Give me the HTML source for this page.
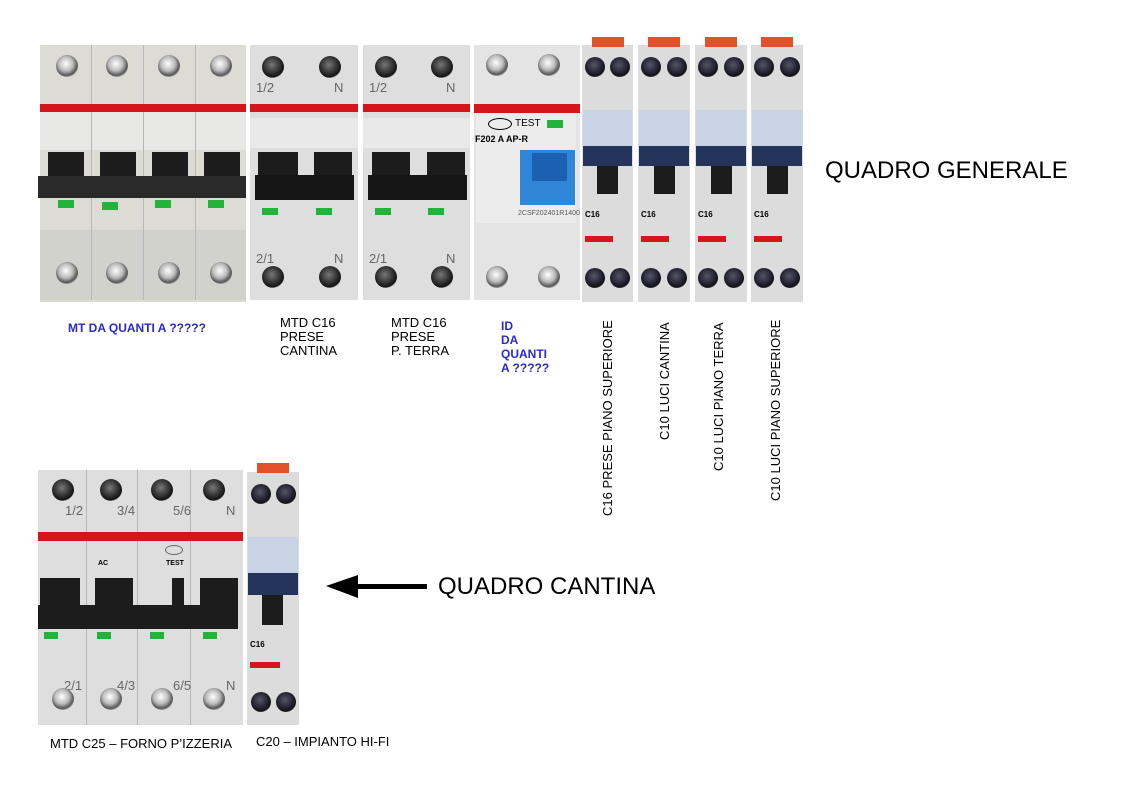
<!DOCTYPE html>
<html><head><meta charset="utf-8"><style>
*{margin:0;padding:0;box-sizing:border-box}
body{width:1123px;height:794px;background:#fff;position:relative;overflow:hidden;font-family:"Liberation Sans",sans-serif}
.a{position:absolute}
.body{background:#dedede}
.beige{background:#dcdcd4}
.scr{position:absolute;width:22px;height:22px;border-radius:50%;background:radial-gradient(circle at 45% 40%,#777 0,#333 45%,#111 70%,#999 72%,#ccc 100%)}
.scrl{position:absolute;width:22px;height:22px;border-radius:50%;background:radial-gradient(circle at 45% 40%,#fff 0,#bbb 40%,#555 65%,#aaa 75%,#ddd 100%)}
.gscr{position:absolute;width:20px;height:20px;border-radius:50%;background:radial-gradient(circle at 45% 40%,#556 0,#223 50%,#111 70%,#bbb 78%,#ddd 100%)}
.red{position:absolute;background:#d6141c}
.blk{position:absolute;background:#1c1c1c}
.grn{position:absolute;background:#22b33a}
.div{position:absolute;width:1px;background:#b8b8b8}
.t{position:absolute;color:#000;font-size:13px;line-height:14px}
.b{color:#2a2acc;font-weight:bold;font-size:12px;line-height:14px}
.rot{position:absolute;font-size:13px;white-space:nowrap;transform-origin:0 0;transform:rotate(-90deg)}
.lbl{position:absolute;font-size:13px;color:#666}
</style></head><body>

<!-- MT 4-pole -->
<div class="a beige" style="left:40px;top:45px;width:206px;height:257px"></div>
<div class="a" style="left:40px;top:110px;width:206px;height:40px;background:#e8e8e6"></div>
<div class="a" style="left:40px;top:230px;width:206px;height:70px;background:#d2d2cc"></div>
<div class="div" style="left:91px;top:45px;height:255px"></div>
<div class="div" style="left:143px;top:45px;height:255px"></div>
<div class="div" style="left:195px;top:45px;height:255px"></div>
<div class="scrl" style="left:56px;top:55px"></div><div class="scrl" style="left:106px;top:55px"></div><div class="scrl" style="left:158px;top:55px"></div><div class="scrl" style="left:210px;top:55px"></div>
<div class="red" style="left:40px;top:104px;width:206px;height:8px"></div>
<div class="blk" style="left:48px;top:152px;width:36px;height:30px"></div><div class="blk" style="left:100px;top:152px;width:36px;height:30px"></div><div class="blk" style="left:152px;top:152px;width:36px;height:30px"></div><div class="blk" style="left:204px;top:152px;width:36px;height:30px"></div>
<div class="a" style="left:38px;top:176px;width:208px;height:22px;background:#2a2a2a"></div>
<div class="grn" style="left:58px;top:200px;width:16px;height:8px"></div><div class="grn" style="left:102px;top:202px;width:16px;height:8px"></div><div class="grn" style="left:155px;top:200px;width:16px;height:8px"></div><div class="grn" style="left:208px;top:200px;width:16px;height:8px"></div>
<div class="scrl" style="left:56px;top:262px"></div><div class="scrl" style="left:106px;top:262px"></div><div class="scrl" style="left:158px;top:262px"></div><div class="scrl" style="left:210px;top:262px"></div>

<!-- MTD 1 -->
<div class="a body" style="left:250px;top:45px;width:108px;height:255px"></div>
<div class="scr" style="left:262px;top:56px"></div><div class="scr" style="left:319px;top:56px"></div>
<div class="lbl" style="left:256px;top:80px">1/2</div><div class="lbl" style="left:334px;top:80px">N</div>
<div class="red" style="left:250px;top:104px;width:108px;height:8px"></div>
<div class="a" style="left:250px;top:118px;width:108px;height:30px;background:#e9e9e9"></div>
<div class="blk" style="left:258px;top:152px;width:40px;height:25px"></div><div class="blk" style="left:314px;top:152px;width:38px;height:25px"></div>
<div class="a" style="left:255px;top:175px;width:99px;height:25px;background:#151515"></div>
<div class="grn" style="left:262px;top:208px;width:16px;height:7px"></div><div class="grn" style="left:316px;top:208px;width:16px;height:7px"></div>
<div class="lbl" style="left:256px;top:251px">2/1</div><div class="lbl" style="left:334px;top:251px">N</div>
<div class="scr" style="left:262px;top:266px"></div><div class="scr" style="left:319px;top:266px"></div>

<!-- MTD 2 -->
<div class="a body" style="left:363px;top:45px;width:107px;height:255px"></div>
<div class="scr" style="left:375px;top:56px"></div><div class="scr" style="left:431px;top:56px"></div>
<div class="lbl" style="left:369px;top:80px">1/2</div><div class="lbl" style="left:446px;top:80px">N</div>
<div class="red" style="left:363px;top:104px;width:107px;height:8px"></div>
<div class="a" style="left:363px;top:118px;width:107px;height:30px;background:#e9e9e9"></div>
<div class="blk" style="left:372px;top:152px;width:38px;height:25px"></div><div class="blk" style="left:427px;top:152px;width:38px;height:25px"></div>
<div class="a" style="left:368px;top:175px;width:99px;height:25px;background:#151515"></div>
<div class="grn" style="left:375px;top:208px;width:16px;height:7px"></div><div class="grn" style="left:428px;top:208px;width:16px;height:7px"></div>
<div class="lbl" style="left:369px;top:251px">2/1</div><div class="lbl" style="left:446px;top:251px">N</div>
<div class="scr" style="left:375px;top:266px"></div><div class="scr" style="left:431px;top:266px"></div>

<!-- ID -->
<div class="a" style="left:474px;top:45px;width:106px;height:255px;background:#e4e4e4"></div>
<div class="scrl" style="left:486px;top:54px"></div><div class="scrl" style="left:538px;top:54px"></div>
<div class="red" style="left:474px;top:104px;width:106px;height:9px"></div>
<div class="a" style="left:476px;top:113px;width:100px;height:110px;background:#ececec"></div>
<div class="a" style="left:488px;top:118px;width:24px;height:12px;border:1px solid #000;border-radius:50%"></div>
<div class="a" style="left:515px;top:118px;font-size:10px">TEST</div>
<div class="grn" style="left:547px;top:120px;width:16px;height:8px"></div>
<div class="a" style="left:475px;top:134px;font-size:9px;font-weight:bold">F202 A AP-R</div>
<div class="a" style="left:520px;top:150px;width:55px;height:55px;background:#2f86d6"></div>
<div class="a" style="left:532px;top:153px;width:35px;height:28px;background:#1d5fb0"></div>
<div class="a" style="left:518px;top:210px;font-size:7px;color:#555">2CSF202401R1400</div>
<div class="scrl" style="left:486px;top:266px"></div><div class="scrl" style="left:538px;top:266px"></div>

<!-- Gewiss top -->
<div class="a" style="left:582px;top:45px;width:51px;height:257px;background:#dcdcdc"></div>
<div class="a" style="left:638px;top:45px;width:52px;height:257px;background:#dcdcdc"></div>
<div class="a" style="left:695px;top:45px;width:52px;height:257px;background:#dcdcdc"></div>
<div class="a" style="left:751px;top:45px;width:52px;height:257px;background:#dcdcdc"></div>

<div class="a" style="left:592px;top:37px;width:32px;height:10px;background:#e2512a"></div>
<div class="a" style="left:648px;top:37px;width:32px;height:10px;background:#e2512a"></div>
<div class="a" style="left:705px;top:37px;width:32px;height:10px;background:#e2512a"></div>
<div class="a" style="left:761px;top:37px;width:32px;height:10px;background:#e2512a"></div>

<div class="gscr" style="left:585px;top:57px"></div><div class="gscr" style="left:610px;top:57px"></div>
<div class="gscr" style="left:641px;top:57px"></div><div class="gscr" style="left:667px;top:57px"></div>
<div class="gscr" style="left:698px;top:57px"></div><div class="gscr" style="left:724px;top:57px"></div>
<div class="gscr" style="left:754px;top:57px"></div><div class="gscr" style="left:780px;top:57px"></div>

<div class="a" style="left:583px;top:110px;width:49px;height:36px;background:#c9d3e6"></div>
<div class="a" style="left:639px;top:110px;width:50px;height:36px;background:#c9d3e6"></div>
<div class="a" style="left:696px;top:110px;width:50px;height:36px;background:#c9d3e6"></div>
<div class="a" style="left:752px;top:110px;width:50px;height:36px;background:#c9d3e6"></div>
<div class="a" style="left:583px;top:146px;width:49px;height:20px;background:#25345a"></div>
<div class="a" style="left:639px;top:146px;width:50px;height:20px;background:#25345a"></div>
<div class="a" style="left:696px;top:146px;width:50px;height:20px;background:#25345a"></div>
<div class="a" style="left:752px;top:146px;width:50px;height:20px;background:#25345a"></div>
<div class="blk" style="left:597px;top:166px;width:21px;height:28px"></div>
<div class="blk" style="left:654px;top:166px;width:21px;height:28px"></div>
<div class="blk" style="left:711px;top:166px;width:21px;height:28px"></div>
<div class="blk" style="left:767px;top:166px;width:21px;height:28px"></div>
<div class="a" style="left:585px;top:210px;font-size:8px;font-weight:bold">C16</div>
<div class="a" style="left:641px;top:210px;font-size:8px;font-weight:bold">C16</div>
<div class="a" style="left:698px;top:210px;font-size:8px;font-weight:bold">C16</div>
<div class="a" style="left:754px;top:210px;font-size:8px;font-weight:bold">C16</div>
<div class="red" style="left:585px;top:236px;width:28px;height:6px"></div>
<div class="red" style="left:641px;top:236px;width:28px;height:6px"></div>
<div class="red" style="left:698px;top:236px;width:28px;height:6px"></div>
<div class="red" style="left:754px;top:236px;width:28px;height:6px"></div>
<div class="gscr" style="left:585px;top:268px"></div><div class="gscr" style="left:610px;top:268px"></div>
<div class="gscr" style="left:641px;top:268px"></div><div class="gscr" style="left:667px;top:268px"></div>
<div class="gscr" style="left:698px;top:268px"></div><div class="gscr" style="left:724px;top:268px"></div>
<div class="gscr" style="left:754px;top:268px"></div><div class="gscr" style="left:780px;top:268px"></div>

<!-- Bottom 4-pole -->
<div class="a body" style="left:38px;top:470px;width:205px;height:255px"></div>
<div class="div" style="left:86px;top:470px;height:255px"></div>
<div class="div" style="left:137px;top:470px;height:255px"></div>
<div class="div" style="left:190px;top:470px;height:255px"></div>
<div class="scr" style="left:52px;top:479px"></div><div class="scr" style="left:100px;top:479px"></div><div class="scr" style="left:151px;top:479px"></div><div class="scr" style="left:203px;top:479px"></div>
<div class="lbl" style="left:65px;top:503px">1/2</div><div class="lbl" style="left:117px;top:503px">3/4</div><div class="lbl" style="left:173px;top:503px">5/6</div><div class="lbl" style="left:226px;top:503px">N</div>
<div class="red" style="left:38px;top:532px;width:205px;height:9px"></div>
<div class="a" style="left:165px;top:545px;width:18px;height:10px;border:1px solid #666;border-radius:50%"></div>
<div class="a" style="left:166px;top:560px;font-size:7px;font-weight:bold">TEST</div>
<div class="a" style="left:98px;top:560px;font-size:7px;font-weight:bold">AC</div>
<div class="blk" style="left:40px;top:578px;width:40px;height:30px"></div><div class="blk" style="left:95px;top:578px;width:38px;height:30px"></div><div class="blk" style="left:172px;top:578px;width:12px;height:30px"></div><div class="blk" style="left:200px;top:578px;width:38px;height:30px"></div>
<div class="a" style="left:38px;top:605px;width:200px;height:24px;background:#1c1c1c"></div>
<div class="grn" style="left:44px;top:632px;width:14px;height:7px"></div><div class="grn" style="left:97px;top:632px;width:14px;height:7px"></div><div class="grn" style="left:150px;top:632px;width:14px;height:7px"></div><div class="grn" style="left:203px;top:632px;width:14px;height:7px"></div>
<div class="lbl" style="left:64px;top:678px">2/1</div><div class="lbl" style="left:117px;top:678px">4/3</div><div class="lbl" style="left:173px;top:678px">6/5</div><div class="lbl" style="left:226px;top:678px">N</div>
<div class="scrl" style="left:52px;top:688px"></div><div class="scrl" style="left:100px;top:688px"></div><div class="scrl" style="left:151px;top:688px"></div><div class="scrl" style="left:203px;top:688px"></div>

<!-- Bottom Gewiss -->
<div class="a" style="left:247px;top:472px;width:52px;height:253px;background:#dcdcdc"></div>
<div class="a" style="left:257px;top:463px;width:32px;height:10px;background:#e2512a"></div>
<div class="gscr" style="left:251px;top:484px"></div><div class="gscr" style="left:276px;top:484px"></div>
<div class="a" style="left:248px;top:537px;width:50px;height:36px;background:#c9d3e6"></div>
<div class="a" style="left:248px;top:573px;width:50px;height:22px;background:#25345a"></div>
<div class="blk" style="left:262px;top:595px;width:21px;height:30px"></div>
<div class="a" style="left:250px;top:640px;font-size:8px;font-weight:bold">C16</div>
<div class="red" style="left:250px;top:662px;width:30px;height:6px"></div>
<div class="gscr" style="left:251px;top:692px"></div><div class="gscr" style="left:276px;top:692px"></div>

<!-- Arrow -->
<div class="a" style="left:355px;top:584px;width:72px;height:5px;background:#000"></div>
<svg class="a" style="left:324px;top:573px" width="36" height="27"><polygon points="2,13 34,2 34,25" fill="#000"/></svg>

<!-- Texts -->
<div class="a" style="left:825px;top:157px;font-size:24px">QUADRO GENERALE</div>
<div class="a" style="left:438px;top:573px;font-size:24px">QUADRO CANTINA</div>
<div class="a b" style="left:68px;top:321px">MT DA QUANTI A ?????</div>
<div class="t" style="left:280px;top:316px">MTD C16<br>PRESE<br>CANTINA</div>
<div class="t" style="left:391px;top:316px">MTD C16<br>PRESE<br>P. TERRA</div>
<div class="a b" style="left:501px;top:319px">ID<br>DA<br>QUANTI<br>A ?????</div>
<div class="rot" style="left:600px;top:516px">C16 PRESE PIANO SUPERIORE</div>
<div class="rot" style="left:657px;top:440px">C10 LUCI CANTINA</div>
<div class="rot" style="left:711px;top:471px">C10 LUCI PIANO TERRA</div>
<div class="rot" style="left:768px;top:501px">C10 LUCI PIANO SUPERIORE</div>
<div class="a" style="left:50px;top:736px;font-size:13px">MTD C25 – FORNO P’IZZERIA</div>
<div class="a" style="left:256px;top:734px;font-size:13px">C20 – IMPIANTO HI-FI</div>
</body></html>
